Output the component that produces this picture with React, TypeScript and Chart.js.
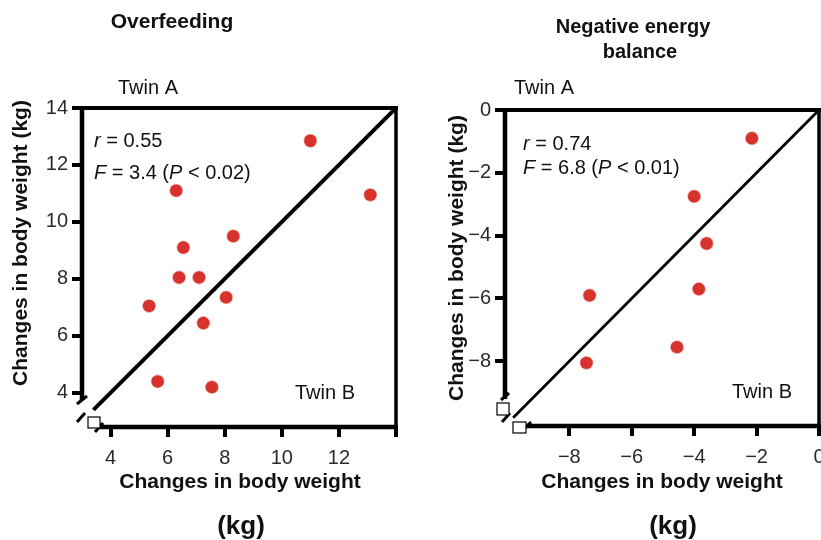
import React, { useEffect, useRef } from "react";
import { Chart, registerables } from "chart.js";

Chart.register(...registerables);

// ---------- Data ----------
// Overfeeding: x = Twin B, y = Twin A (kg)
const overfeedTwinB = [11.0, 13.1, 6.3, 8.3, 6.55, 6.4, 7.1, 8.05, 5.35, 7.25, 5.65, 7.55];
const overfeedTwinA = [12.85, 10.95, 11.1, 9.5, 9.1, 8.05, 8.05, 7.35, 7.05, 6.45, 4.4, 4.2];
const overfeedIdentity = [3.4, 14];
const overfeedXTicks = [4, 6, 8, 10, 12, 14];
const overfeedXLabels = [4, 6, 8, 10, 12];
const overfeedYTicks = [4, 6, 8, 10, 12, 14];

// Negative energy balance
const negTwinB = [-2.15, -4.0, -3.6, -3.85, -7.35, -4.55, -7.45];
const negTwinA = [-0.9, -2.75, -4.25, -5.7, -5.9, -7.55, -8.05];
const negIdentity = [-9.8, 0];
const negXTicks = [-8, -6, -4, -2, 0];
const negXLabels = [-8, -6, -4, -2, 0];
const negYTicks = [-8, -6, -4, -2, 0];

const FONT = "'Liberation Sans', Arial, Helvetica, sans-serif";
const RED = "#d8322c";

type Seg = { t: string; i?: boolean };
type TextItem = {
  segs: Seg[];
  x: number;
  y: number;
  size: number;
  bold?: boolean;
  align?: "left" | "center";
  rotate?: boolean;
};

type PanelSpec = {
  left: number;
  width: number;
  xs: number[];
  ys: number[];
  identity: number[];
  xMin: number;
  xMax: number;
  yMin: number;
  yMax: number;
  xTicks: number[];
  xLabels: number[];
  yTicks: number[];
  padTop: number;
  padRight: number;
  yWidth: number;
  xHeight: number;
  diagWidth: number;
  texts: TextItem[];
  breakStyle: "a" | "b";
};

const fmt = (v: number) => String(v).replace("-", "\u2212");

function drawRich(ctx: CanvasRenderingContext2D, item: TextItem) {
  const weight = item.bold ? "bold " : "";
  const fontOf = (s: Seg) => `${s.i ? "italic " : ""}${weight}${item.size}px ${FONT}`;
  let total = 0;
  for (const s of item.segs) {
    ctx.font = fontOf(s);
    total += ctx.measureText(s.t).width;
  }
  ctx.save();
  ctx.translate(item.x, item.y);
  if (item.rotate) ctx.rotate(-Math.PI / 2);
  let x = item.align === "center" ? -total / 2 : 0;
  ctx.textBaseline = "middle";
  ctx.textAlign = "left";
  ctx.fillStyle = "#111";
  for (const s of item.segs) {
    ctx.font = fontOf(s);
    ctx.fillText(s.t, x, 0);
    x += ctx.measureText(s.t).width;
  }
  ctx.restore();
}

function decorPlugin(spec: PanelSpec) {
  return {
    id: "decor",
    afterDraw(chart: any) {
      const ctx: CanvasRenderingContext2D = chart.ctx;
      const a = chart.chartArea;
      const l = a.left, r = a.right, t = a.top, b = a.bottom;
      const line = (x1: number, y1: number, x2: number, y2: number, w: number) => {
        ctx.lineWidth = w;
        ctx.beginPath();
        ctx.moveTo(x1, y1);
        ctx.lineTo(x2, y2);
        ctx.stroke();
      };
      ctx.save();
      ctx.strokeStyle = "#000";
      ctx.lineCap = "butt";
      // frame
      line(l - 2, t, r + 2, t, 4);
      line(r, t - 2, r, b + 2, 3.5);
      line(l, t - 2, l, b - 27, 4.5);
      if (spec.breakStyle === "a") {
        line(l + 18, b, r + 2, b, 4.5);
        line(l - 5, b - 23, l + 5, b - 31, 3);
        line(l - 5, b - 5, l + 3, b - 14, 3);
        line(l + 13, b + 5, l + 21, b - 4, 3);
        ctx.fillStyle = "#fff";
        ctx.fillRect(l + 6, b - 10, 12, 11);
        ctx.lineWidth = 1.2;
        ctx.strokeRect(l + 6, b - 10, 12, 11);
      } else {
        line(l + 22, b, r + 2, b, 4.5);
        line(l - 4, b - 26, l + 4, b - 33, 3);
        line(l - 3, b - 4, l + 5, b - 13, 3);
        line(l + 18, b + 4, l + 26, b - 4, 3);
        ctx.fillStyle = "#fff";
        ctx.lineWidth = 1.2;
        ctx.fillRect(l - 8, b - 23, 12, 12);
        ctx.strokeRect(l - 8, b - 23, 12, 12);
        ctx.fillRect(l + 8, b - 4, 13, 11);
        ctx.strokeRect(l + 8, b - 4, 13, 11);
      }
      ctx.restore();
      for (const it of spec.texts) drawRich(ctx, it);
    },
  };
}

function buildConfig(spec: PanelSpec): any {
  const tickFont = { family: FONT, size: 20 };
  return {
    type: "scatter",
    data: {
      datasets: [
        {
          type: "line",
          data: spec.identity.map((v) => ({ x: v, y: v })),
          borderColor: "#000",
          borderWidth: spec.diagWidth,
          pointRadius: 0,
          showLine: true,
          fill: false,
          order: 2,
        },
        {
          data: spec.xs.map((x, i) => ({ x, y: spec.ys[i] })),
          backgroundColor: RED,
          borderColor: "rgba(216,50,44,0.35)",
          borderWidth: 1.5,
          pointRadius: 6.2,
          order: 1,
        },
      ],
    },
    options: {
      animation: false,
      responsive: false,
      maintainAspectRatio: false,
      events: [],
      layout: { autoPadding: false, padding: { left: 0, top: spec.padTop, right: spec.padRight, bottom: 0 } },
      plugins: { legend: { display: false }, tooltip: { enabled: false }, title: { display: false } },
      scales: {
        x: {
          type: "linear",
          min: spec.xMin,
          max: spec.xMax,
          afterBuildTicks: (s: any) => {
            s.ticks = spec.xTicks.map((v) => ({ value: v }));
          },
          afterFit: (s: any) => {
            s.height = spec.xHeight;
            s.paddingLeft = 0;
            s.paddingRight = 0;
          },
          ticks: {
            font: tickFont,
            color: "#2a2a2a",
            padding: 9,
            maxRotation: 0,
            autoSkip: false,
            callback: (v: number) => (spec.xLabels.includes(v) ? fmt(v) : ""),
          },
          grid: {
            display: true,
            drawOnChartArea: false,
            drawTicks: true,
            tickLength: 10,
            lineWidth: 4,
            color: "#000",
          },
          border: { display: false },
        },
        y: {
          type: "linear",
          min: spec.yMin,
          max: spec.yMax,
          afterBuildTicks: (s: any) => {
            s.ticks = spec.yTicks.map((v) => ({ value: v }));
          },
          afterFit: (s: any) => {
            s.width = spec.yWidth;
            s.paddingTop = 0;
            s.paddingBottom = 0;
          },
          ticks: {
            font: tickFont,
            color: "#2a2a2a",
            padding: 4,
            autoSkip: false,
            callback: (v: number) => fmt(v),
          },
          grid: {
            display: true,
            drawOnChartArea: false,
            drawTicks: true,
            tickLength: 10,
            lineWidth: 4,
            color: "#000",
          },
          border: { display: false },
        },
      },
    },
    plugins: [decorPlugin(spec)],
  };
}

const leftSpec: PanelSpec = {
  left: 0,
  width: 410,
  xs: overfeedTwinB,
  ys: overfeedTwinA,
  identity: overfeedIdentity,
  xMin: 3.0,
  xMax: 14,
  yMin: 2.8,
  yMax: 14,
  xTicks: overfeedXTicks,
  xLabels: overfeedXLabels,
  yTicks: overfeedYTicks,
  padTop: 108,
  padRight: 14,
  yWidth: 82,
  xHeight: 113,
  diagWidth: 4,
  breakStyle: "a",
  texts: [
    { segs: [{ t: "Overfeeding" }], x: 172, y: 22, size: 21, bold: true, align: "center" },
    { segs: [{ t: "Twin A" }], x: 118, y: 88, size: 20 },
    { segs: [{ t: "r", i: true }, { t: " = 0.55" }], x: 94, y: 141, size: 20 },
    {
      segs: [{ t: "F", i: true }, { t: " = 3.4 (" }, { t: "P", i: true }, { t: " < 0.02)" }],
      x: 94,
      y: 173,
      size: 20,
    },
    { segs: [{ t: "Twin B" }], x: 295, y: 393, size: 20 },
    { segs: [{ t: "Changes in body weight" }], x: 240, y: 482, size: 21, bold: true, align: "center" },
    { segs: [{ t: "(kg)" }], x: 241, y: 527, size: 26, bold: true, align: "center" },
    { segs: [{ t: "Changes in body weight (kg)" }], x: 21, y: 243, size: 21, bold: true, align: "center", rotate: true },
  ],
};

const rightSpec: PanelSpec = {
  left: 410,
  width: 411,
  xs: negTwinB,
  ys: negTwinA,
  identity: negIdentity,
  xMin: -10.06,
  xMax: 0,
  yMin: -10.06,
  yMax: 0,
  xTicks: negXTicks,
  xLabels: negXLabels,
  yTicks: negYTicks,
  padTop: 110,
  padRight: 2,
  yWidth: 95,
  xHeight: 114,
  diagWidth: 2.8,
  breakStyle: "b",
  texts: [
    { segs: [{ t: "Negative energy" }], x: 223, y: 27, size: 20, bold: true, align: "center" },
    { segs: [{ t: "balance" }], x: 230, y: 52, size: 20, bold: true, align: "center" },
    { segs: [{ t: "Twin A" }], x: 104, y: 88, size: 20 },
    { segs: [{ t: "r", i: true }, { t: " = 0.74" }], x: 113, y: 144, size: 20 },
    {
      segs: [{ t: "F", i: true }, { t: " = 6.8 (" }, { t: "P", i: true }, { t: " < 0.01)" }],
      x: 113,
      y: 168,
      size: 20,
    },
    { segs: [{ t: "Twin B" }], x: 322, y: 392, size: 20 },
    { segs: [{ t: "Changes in body weight" }], x: 252, y: 482, size: 21, bold: true, align: "center" },
    { segs: [{ t: "(kg)" }], x: 263, y: 527, size: 26, bold: true, align: "center" },
    { segs: [{ t: "Changes in body weight (kg)" }], x: 47, y: 258, size: 21, bold: true, align: "center", rotate: true },
  ],
};

function Panel({ spec }: { spec: PanelSpec }) {
  const ref = useRef<HTMLCanvasElement | null>(null);
  useEffect(() => {
    if (!ref.current) return;
    const chart = new Chart(ref.current, buildConfig(spec));
    return () => chart.destroy();
  }, [spec]);
  return (
    <canvas
      ref={ref}
      width={spec.width}
      height={540}
      style={{ position: "absolute", left: spec.left, top: 0, width: spec.width, height: 540 }}
    />
  );
}

export default function App() {
  return (
    <div
      style={{
        position: "fixed",
        left: 0,
        top: 0,
        width: 821,
        height: 540,
        background: "#fff",
        overflow: "hidden",
      }}
    >
      <Panel spec={leftSpec} />
      <Panel spec={rightSpec} />
    </div>
  );
}
